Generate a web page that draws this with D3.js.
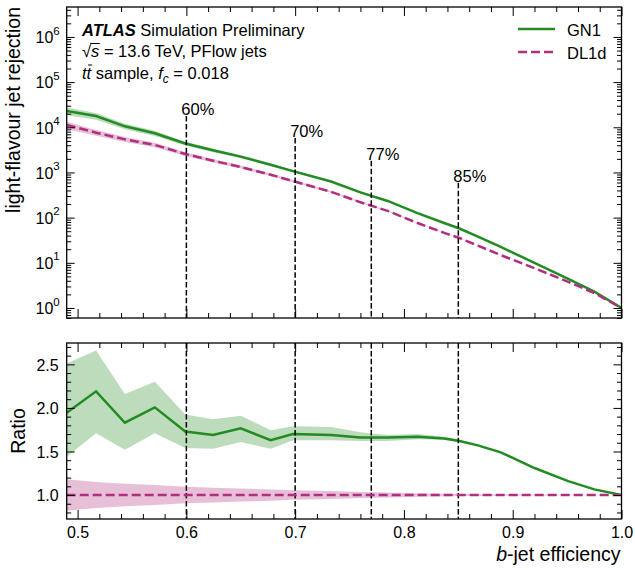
<!DOCTYPE html>
<html><head><meta charset="utf-8">
<script src="https://cdn.jsdelivr.net/npm/d3@7"></script>
<style>
body{margin:0;background:#fff}
svg{display:block}
text{font-family:"Liberation Sans",Arial,Helvetica,sans-serif;fill:#000}
</style>
</head><body>
<svg id="chart" width="635" height="570"></svg>
<script>
// ---------------- data ----------------
const eff = [0.49, 0.517, 0.5435, 0.571, 0.599, 0.6245, 0.65, 0.6775, 0.698, 0.733, 0.76, 0.785, 0.8125, 0.837, 0.851, 0.868, 0.889, 0.92, 0.951, 0.975, 1.0];
const gn1Rej  = [22900, 17800, 10500, 7400, 4370, 3090, 2240, 1480, 1070, 630, 363, 234, 126, 76, 57.5, 38, 22.4, 10, 4.4, 2.3, 1.0];
const dl1dRej = [11200, 7600, 5400, 4070, 2570, 1820, 1320, 890, 645, 372, 219, 141, 76, 46, 35.5, 24, 14.8, 7.6, 3.8, 2.14, 1.0];
const gn1RelErr  = [0.19, 0.17, 0.14, 0.13, 0.10, 0.09, 0.08, 0.07, 0.06, 0.05, 0.04, 0.03, 0.022, 0.017, 0.013, 0.01, 0.008, 0.006, 0.004, 0.002, 0];
const dl1dRelErr = [0.18, 0.15, 0.13, 0.115, 0.095, 0.085, 0.075, 0.065, 0.055, 0.045, 0.035, 0.028, 0.02, 0.015, 0.012, 0.01, 0.007, 0.005, 0.003, 0.002, 0];
const ratioGN1   = [1.944, 2.19, 1.83, 2.006, 1.73, 1.69, 1.765, 1.63, 1.70, 1.69, 1.66, 1.66, 1.67, 1.65, 1.62, 1.57, 1.49, 1.31, 1.16, 1.065, 1.0];
const ratioGN1Hi = [2.51, 2.66, 2.16, 2.30, 1.925, 1.87, 1.91, 1.745, 1.79, 1.78, 1.72, 1.69, 1.70, 1.67, 1.635, 1.58, 1.50, 1.315, 1.163, 1.066, 1.0];
const ratioGN1Lo = [1.44, 1.71, 1.52, 1.71, 1.54, 1.53, 1.61, 1.53, 1.63, 1.63, 1.62, 1.62, 1.64, 1.635, 1.61, 1.56, 1.48, 1.305, 1.157, 1.064, 1.0];
const wpEff = [0.6, 0.7, 0.77, 0.85];
const wpLabels = ["60%", "70%", "77%", "85%"];
const wpLabelRej = [18600, 6100, 1900, 620];
const xMajorTicks = [0.5, 0.6, 0.7, 0.8, 0.9, 1.0];
const xTickLabels = ["0.5", "0.6", "0.7", "0.8", "0.9", "1.0"];
const yTopMajorTicks = [1, 10, 100, 1000, 10000, 100000, 1000000];
const yTopExponents = ["0", "1", "2", "3", "4", "5", "6"];
const yRatioTicks = [1.0, 1.5, 2.0, 2.5];
const yRatioTickLabels = ["1.0", "1.5", "2.0", "2.5"];
const seriesNames = ["GN1", "DL1d"];

// ---------------- layout ----------------
const L = 66.7, R = 621.5;
const T1 = 7, B1 = 318, T2 = 343, B2 = 519;
const green = "#228b22", magenta = "#b0307f";
const greenBand = "rgba(34,139,34,0.3)", magBand = "rgba(176,48,127,0.3)";
const svg = d3.select("#chart");

const x = d3.scaleLinear().domain([0.49, 1.0]).range([L, R]);
const yTop = d3.scaleLog().domain([0.6, 4.6e6]).range([B1, T1]);
const yRat = d3.scaleLinear().domain([0.725, 2.745]).range([B2, T2]);

const defs = svg.append("defs");
defs.append("clipPath").attr("id", "clipTop").append("rect").attr("x", L).attr("y", T1).attr("width", R - L).attr("height", B1 - T1);
defs.append("clipPath").attr("id", "clipRat").append("rect").attr("x", L).attr("y", T2).attr("width", R - L).attr("height", B2 - T2);

const idx = d3.range(eff.length);

// ---------------- top panel ----------------
const gTop = svg.append("g").attr("clip-path", "url(#clipTop)");
gTop.append("path").datum(idx)
  .attr("d", d3.area().x(i => x(eff[i])).y0(i => yTop(dl1dRej[i] * (1 - dl1dRelErr[i]))).y1(i => yTop(dl1dRej[i] * (1 + dl1dRelErr[i]))))
  .attr("fill", magBand);
gTop.append("path").datum(idx)
  .attr("d", d3.area().x(i => x(eff[i])).y0(i => yTop(gn1Rej[i] * (1 - gn1RelErr[i]))).y1(i => yTop(gn1Rej[i] * (1 + gn1RelErr[i]))))
  .attr("fill", greenBand);
gTop.append("path").datum(idx)
  .attr("d", d3.line().x(i => x(eff[i])).y(i => yTop(gn1Rej[i])))
  .attr("fill", "none").attr("stroke", green).attr("stroke-width", 2.5);
gTop.append("path").datum(idx)
  .attr("d", d3.line().x(i => x(eff[i])).y(i => yTop(dl1dRej[i])))
  .attr("fill", "none").attr("stroke", magenta).attr("stroke-width", 2.5).attr("stroke-dasharray", "9,4");

// working points top
wpEff.forEach((w, k) => {
  svg.append("line").attr("x1", x(w)).attr("x2", x(w)).attr("y1", yTop(wpLabelRej[k]) + 1).attr("y2", B1)
    .attr("stroke", "#000").attr("stroke-width", 1.5).attr("stroke-dasharray", "5.5,2.4");
  svg.append("text").attr("x", x(w) - 5).attr("y", yTop(wpLabelRej[k])).attr("font-size", 16.5).text(wpLabels[k]);
});

// ---------------- ratio panel ----------------
const gRat = svg.append("g").attr("clip-path", "url(#clipRat)");
gRat.append("path").datum(idx)
  .attr("d", d3.area().x(i => x(eff[i])).y0(i => yRat(1 - dl1dRelErr[i])).y1(i => yRat(1 + dl1dRelErr[i])))
  .attr("fill", magBand);
gRat.append("path").datum(idx)
  .attr("d", d3.area().x(i => x(eff[i])).y0(i => yRat(ratioGN1Lo[i])).y1(i => yRat(ratioGN1Hi[i])))
  .attr("fill", greenBand);
gRat.append("path").datum(idx)
  .attr("d", d3.line().x(i => x(eff[i])).y(i => yRat(ratioGN1[i])))
  .attr("fill", "none").attr("stroke", green).attr("stroke-width", 2.5);
wpEff.forEach(w => {
  gRat.append("line").attr("x1", x(w)).attr("x2", x(w)).attr("y1", T2).attr("y2", B2)
    .attr("stroke", "#000").attr("stroke-width", 1.5).attr("stroke-dasharray", "5.5,2.4");
});
gRat.append("path").datum(idx)
  .attr("d", d3.line().x(i => x(eff[i])).y(() => yRat(1)))
  .attr("fill", "none").attr("stroke", magenta).attr("stroke-width", 2.5).attr("stroke-dasharray", "9,4");

// ---------------- axes ----------------
const xMinor = d3.range(0.5, 1.0001, 0.02).filter(v => !xMajorTicks.some(m => Math.abs(m - v) < 1e-6));
const logMinor = [];
for (let e = -1; e <= 6; e++) for (let d = 2; d <= 9; d++) { const v = d * Math.pow(10, e); if (v >= 0.6 && v <= 4.6e6) logMinor.push(v); }
const ratMinor = d3.range(0.8, 2.71, 0.1).filter(v => !yRatioTicks.some(m => Math.abs(m - v) < 1e-6));

function tickAxis(axisFn, scale, vals, size, y0, x0, fmt, pad) {
  const a = axisFn(scale).tickValues(vals).tickSizeInner(size).tickSizeOuter(0).tickPadding(pad || 6)
    .tickFormat(fmt || (() => ""));
  const g = svg.append("g").attr("transform", `translate(${x0 || 0},${y0 || 0})`).call(a);
  g.select(".domain").remove();
  g.selectAll(".tick line").attr("stroke", "#000").attr("stroke-width", 1);
  g.selectAll(".tick text").attr("font-size", 16).attr("font-family", '"Liberation Sans",Arial,sans-serif').attr("fill", "#000");
  return g;
}
// top panel x ticks (bottom & top, inward)
[B1].forEach(yy => { tickAxis(d3.axisBottom, x, xMajorTicks, -9, yy); tickAxis(d3.axisBottom, x, xMinor, -5, yy); });
[T1, T2].forEach(yy => { tickAxis(d3.axisTop, x, xMajorTicks, -9, yy); tickAxis(d3.axisTop, x, xMinor, -5, yy); });
// ratio bottom with labels
tickAxis(d3.axisBottom, x, xMajorTicks, -9, B2, 0, (d, i) => xTickLabels[i], 7.5);
tickAxis(d3.axisBottom, x, xMinor, -5, B2);
// top y
const gyl = tickAxis(d3.axisLeft, yTop, yTopMajorTicks, -8, 0, L, () => "", 8);
gyl.selectAll(".tick text").each(function(d, i) {
  const t = d3.select(this).attr("x", -7).attr("dy", "0.36em");
  t.append("tspan").text("10");
  t.append("tspan").attr("font-size", 11.5).attr("dy", "-0.75em").text(yTopExponents[i]);
});
tickAxis(d3.axisLeft, yTop, logMinor, -4.5, 0, L);
tickAxis(d3.axisRight, yTop, yTopMajorTicks, -8, 0, R);
tickAxis(d3.axisRight, yTop, logMinor, -4.5, 0, R);
// ratio y
const gyr = tickAxis(d3.axisLeft, yRat, yRatioTicks, -8, 0, L, (d, i) => yRatioTickLabels[i], 8);
gyr.selectAll(".tick text").attr("dy", "0.36em");
tickAxis(d3.axisLeft, yRat, ratMinor, -4.5, 0, L);
tickAxis(d3.axisRight, yRat, yRatioTicks, -8, 0, R);
tickAxis(d3.axisRight, yRat, ratMinor, -4.5, 0, R);

// frames
[[T1, B1], [T2, B2]].forEach(([t, b]) => {
  svg.append("rect").attr("x", L).attr("y", t).attr("width", R - L).attr("height", b - t)
    .attr("fill", "none").attr("stroke", "#000").attr("stroke-width", 1.3);
});

// axis titles
svg.append("text").attr("transform", `translate(20,${T1}) rotate(-90)`).attr("text-anchor", "end")
  .attr("font-size", 19.5).text("light-flavour jet rejection");
svg.append("text").attr("transform", `translate(25,${(T2 + B2) / 2}) rotate(-90)`).attr("text-anchor", "middle")
  .attr("font-size", 19.5).text("Ratio");
const xl = svg.append("text").attr("x", R - 1).attr("y", 561).attr("text-anchor", "end").attr("font-size", 19.5);
xl.append("tspan").attr("font-style", "italic").text("b");
xl.append("tspan").text("-jet efficiency");

// ATLAS label
const t1 = svg.append("text").attr("x", 82).attr("y", 36).attr("font-size", 16.5);
t1.append("tspan").attr("font-weight", "bold").attr("font-style", "italic").text("ATLAS");
t1.append("tspan").text(" Simulation Preliminary");

const t2 = svg.append("text").attr("x", 82).attr("y", 57).attr("font-size", 16.5);
t2.append("tspan").text("\u221A");
t2.append("tspan").attr("font-style", "italic").text("s");
t2.append("tspan").text(" = 13.6 TeV, PFlow jets");
{
  const n = t2.node();
  const sx0 = n.getStartPositionOfChar(1).x, sx1 = n.getEndPositionOfChar(1).x;
  svg.append("line").attr("x1", sx0 - 1).attr("x2", sx1 + 0.5).attr("y1", 57 - 13.5).attr("y2", 57 - 13.5)
    .attr("stroke", "#000").attr("stroke-width", 1);
}
const t3 = svg.append("text").attr("x", 82).attr("y", 79).attr("font-size", 16.5);
t3.append("tspan").attr("font-style", "italic").text("t");
t3.append("tspan").attr("font-style", "italic").text("t");
t3.append("tspan").text(" sample, ");
t3.append("tspan").attr("font-style", "italic").text("f");
t3.append("tspan").attr("font-style", "italic").attr("font-size", 12).attr("dy", 4).text("c");
t3.append("tspan").attr("dy", -4).text(" = 0.018");
{
  const n = t3.node();
  const a = n.getStartPositionOfChar(1).x, b = n.getEndPositionOfChar(1).x;
  svg.append("line").attr("x1", a + 1.5).attr("x2", b + 1).attr("y1", 79 - 14).attr("y2", 79 - 14)
    .attr("stroke", "#000").attr("stroke-width", 1);
}

// legend
const leg = [[green, null, 29, 36], [magenta, "9,4", 52, 59]];
leg.forEach(([c, dash, ly, ty], k) => {
  const l = svg.append("line").attr("x1", 518).attr("x2", 555).attr("y1", ly).attr("y2", ly)
    .attr("stroke", c).attr("stroke-width", 2.5);
  if (dash) l.attr("stroke-dasharray", dash);
  svg.append("text").attr("x", 567).attr("y", ty).attr("font-size", 16.5).text(seriesNames[k]);
});
</script>
</body></html>
